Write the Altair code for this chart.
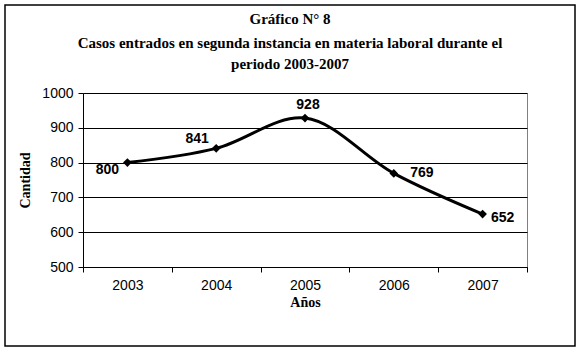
import altair as alt
import pandas as pd

years = ["2003", "2004", "2005", "2006", "2007"]
values = [800, 841, 928, 769, 652]
y_ticks = [500, 600, 700, 800, 900, 1000]
title_lines = ["Gráfico N° 8",
               "Casos entrados en segunda instancia en materia laboral durante el",
               "periodo 2003-2007"]
x_title = "Años"
y_title = "Cantidad"

df = pd.DataFrame({"year": years, "value": values})

W, H = 444, 174

x_enc = alt.X("year:N", sort=years, title=x_title,
              scale=alt.Scale(paddingInner=0, paddingOuter=0),
              axis=alt.Axis(labelAngle=0, tickBand="extent", tickSize=5, tickColor="black",
                            domainColor="black", labelFont="Liberation Sans", labelFontSize=14,
                            labelColor="black", labelPadding=6, titleFont="Liberation Serif",
                            titleFontSize=14, titleFontWeight="bold", titlePadding=3,
                            titleColor="black", grid=False))
y_enc = alt.Y("value:Q", title=y_title,
              scale=alt.Scale(domain=[500, 1000], nice=False, zero=False),
              axis=alt.Axis(values=y_ticks, tickCount=6, format="d", tickSize=5,
                            tickColor="black", domainColor="black", gridColor="black",
                            gridOpacity=1, labelOverlap=False, labelFont="Liberation Sans",
                            labelFontSize=14, labelColor="black", labelPadding=5,
                            titleFont="Liberation Serif", titleFontSize=14,
                            titleFontWeight="bold", titleColor="black", titlePadding=9))

base = alt.Chart(df)

line = base.mark_line(color="black", strokeWidth=3, interpolate="catmull-rom").encode(x=x_enc, y=y_enc)
pts = base.mark_point(shape="diamond", filled=True, color="black", size=75, opacity=1).encode(
    x=x_enc, y=y_enc)

offsets = {"2003": (-20, 7), "2004": (-19, -9), "2005": (3, -13), "2006": (28, 0), "2007": (20, 4)}
label_layers = []
for yr, (dx, dy) in offsets.items():
    label_layers.append(
        base.transform_filter(alt.datum.year == yr).mark_text(
            font="Liberation Sans", fontSize=14, fontWeight="bold", color="black",
            dx=dx, dy=dy, align="center", baseline="middle").encode(
            x=x_enc, y=y_enc, text="value:Q"))

one = alt.Data(values=[{}])
frame = alt.Chart(one).mark_rect(fill=None, stroke="black", strokeWidth=1.5).encode(
    x=alt.value(-78), x2=alt.value(492), y=alt.value(-88), y2=alt.value(253))

title_layers = []
for i, t in enumerate(title_lines):
    title_layers.append(
        alt.Chart(alt.Data(values=[{"t": t}])).mark_text(
            font="Liberation Serif", fontSize=15, fontWeight="bold", color="black",
            align="center", baseline="middle").encode(
            x=alt.value(290 - 83), y=alt.value([19 - 93, 43 - 93, 64 - 93][i]), text="t:N"))

chart = alt.layer(line, pts, *label_layers, frame, *title_layers).properties(
    width=W, height=H,
    autosize=alt.AutoSizeParams(type="none"),
    padding={"left": 83, "top": 93, "right": 54, "bottom": 86},
    background="white",
).configure_view(stroke="#808080", strokeWidth=1)

chart.save("out.html", embed_options={"renderer": "svg", "actions": False})
